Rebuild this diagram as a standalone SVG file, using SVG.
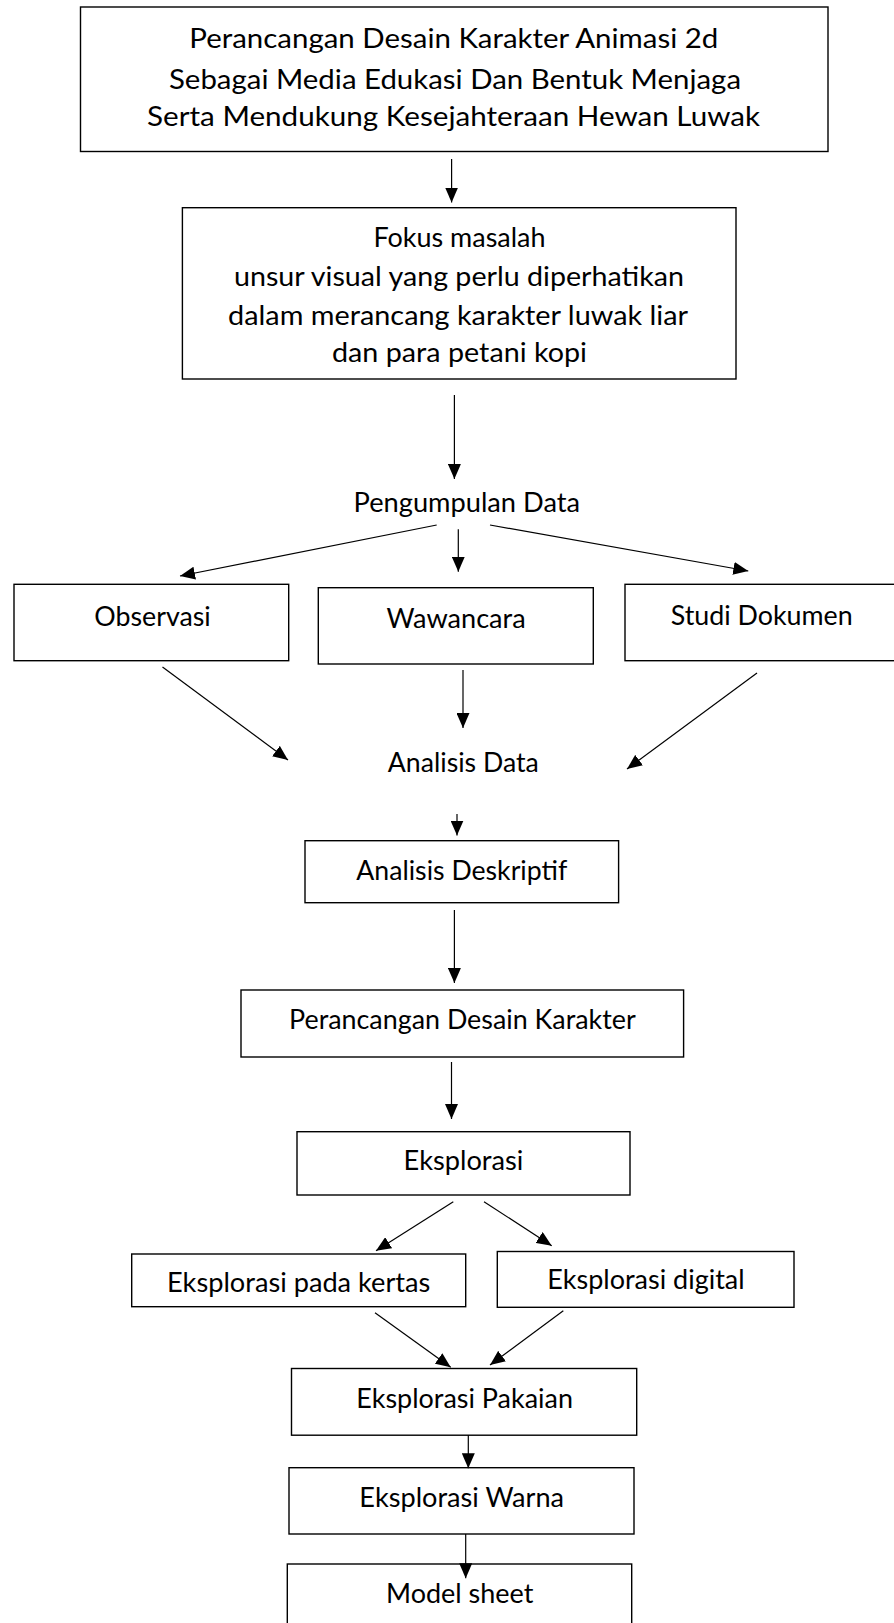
<svg xmlns="http://www.w3.org/2000/svg" width="894" height="1623" viewBox="0 0 894 1623">
<style>
.box{fill:#fff;stroke:#000;stroke-width:1.4}
.t{font-family:Lato,"Open Sans","Liberation Sans",sans-serif;font-size:27px;fill:#000;text-anchor:middle}
.c{stroke:#000;stroke-width:1.2;fill:none;marker-end:url(#ah)}
</style>
<defs>
<marker id="ah" markerUnits="userSpaceOnUse" markerWidth="15" markerHeight="13" refX="15" refY="6.5" orient="auto">
<path d="M0,0 L15,6.5 L0,13 z" fill="#000"/>
</marker>
</defs>
<rect width="894" height="1623" fill="#fff"/>
<g id="judul">
<rect class="box" x="80.5" y="7" width="747.5" height="144.5"/>
<text class="t" x="453.8" y="48.3" textLength="529" lengthAdjust="spacingAndGlyphs">Perancangan Desain Karakter Animasi 2d</text>
<text class="t" x="455" y="88.5" textLength="572" lengthAdjust="spacingAndGlyphs">Sebagai Media Edukasi Dan Bentuk Menjaga</text>
<text class="t" x="453.6" y="126" textLength="613" lengthAdjust="spacingAndGlyphs">Serta Mendukung Kesejahteraan Hewan Luwak</text>
</g>
<g id="fokus">
<rect class="box" x="182.4" y="207.7" width="553.6" height="171.3"/>
<text class="t" x="459.5" y="246.5" textLength="172" lengthAdjust="spacingAndGlyphs">Fokus masalah</text>
<text class="t" x="459" y="286" textLength="450" lengthAdjust="spacingAndGlyphs">unsur visual yang perlu diperhatikan</text>
<text class="t" x="458.1" y="324.5" textLength="460" lengthAdjust="spacingAndGlyphs">dalam merancang karakter luwak liar</text>
<text class="t" x="459.5" y="361.5" textLength="255" lengthAdjust="spacingAndGlyphs">dan para petani kopi</text>
</g>
<g id="pengumpulan">
<text class="t" x="466.8" y="512" textLength="226.5" lengthAdjust="spacingAndGlyphs">Pengumpulan Data</text>
</g>
<g id="observasi">
<rect class="box" x="14" y="584.3" width="274.7" height="76.4"/>
<text class="t" x="152.5" y="626" textLength="116.4" lengthAdjust="spacingAndGlyphs">Observasi</text>
</g>
<g id="wawancara">
<rect class="box" x="318.3" y="587.7" width="275" height="76.3"/>
<text class="t" x="456.1" y="627.5" textLength="139.2" lengthAdjust="spacingAndGlyphs">Wawancara</text>
</g>
<g id="studi">
<rect class="box" x="625" y="584.3" width="280" height="76.4"/>
<text class="t" x="761.7" y="624.5" textLength="182" lengthAdjust="spacingAndGlyphs">Studi Dokumen</text>
</g>
<g id="analisis">
<text class="t" x="463.3" y="772" textLength="151" lengthAdjust="spacingAndGlyphs">Analisis Data</text>
</g>
<g id="deskriptif">
<rect class="box" x="305" y="840.7" width="313.6" height="62"/>
<text class="t" x="461.8" y="880" textLength="211" lengthAdjust="spacingAndGlyphs">Analisis Deskriptif</text>
</g>
<g id="perancangan">
<rect class="box" x="241" y="990" width="442.6" height="67"/>
<text class="t" x="462.4" y="1029" textLength="346.7" lengthAdjust="spacingAndGlyphs">Perancangan Desain Karakter</text>
</g>
<g id="eksplorasi">
<rect class="box" x="297" y="1131.7" width="333" height="63.3"/>
<text class="t" x="463.5" y="1170" textLength="119.8" lengthAdjust="spacingAndGlyphs">Eksplorasi</text>
</g>
<g id="kertas">
<rect class="box" x="131.7" y="1254" width="334" height="52.7"/>
<text class="t" x="298.7" y="1291.7" textLength="263.4" lengthAdjust="spacingAndGlyphs">Eksplorasi pada kertas</text>
</g>
<g id="digital">
<rect class="box" x="497.3" y="1251.5" width="296.7" height="55.8"/>
<text class="t" x="646" y="1289.3" textLength="197.3" lengthAdjust="spacingAndGlyphs">Eksplorasi digital</text>
</g>
<g id="pakaian">
<rect class="box" x="291.5" y="1368.5" width="345.2" height="66.7"/>
<text class="t" x="464.6" y="1408" textLength="216.7" lengthAdjust="spacingAndGlyphs">Eksplorasi Pakaian</text>
</g>
<g id="warna">
<rect class="box" x="289" y="1467.7" width="345" height="66.3"/>
<text class="t" x="461.7" y="1507.3" textLength="204.7" lengthAdjust="spacingAndGlyphs">Eksplorasi Warna</text>
</g>
<g id="model">
<rect class="box" x="287.3" y="1564" width="344.4" height="70"/>
<text class="t" x="459.7" y="1603.3" textLength="147.3" lengthAdjust="spacingAndGlyphs">Model sheet</text>
</g>
<g id="connectors">
<line class="c" x1="451.6" y1="159" x2="451.6" y2="202.5"/>
<line class="c" x1="454.4" y1="395" x2="454.4" y2="479"/>
<line class="c" x1="436.7" y1="525" x2="180" y2="576"/>
<line class="c" x1="458.3" y1="529.3" x2="458.3" y2="571.7"/>
<line class="c" x1="490" y1="525" x2="748.3" y2="571"/>
<line class="c" x1="162.5" y1="667" x2="288" y2="760"/>
<line class="c" x1="463" y1="670" x2="463" y2="728"/>
<line class="c" x1="757" y1="673" x2="627" y2="769"/>
<line class="c" x1="457" y1="814" x2="457" y2="835.5"/>
<line class="c" x1="454.4" y1="910" x2="454.4" y2="983"/>
<line class="c" x1="451.5" y1="1062" x2="451.5" y2="1119"/>
<line class="c" x1="453.3" y1="1201.7" x2="376" y2="1250.7"/>
<line class="c" x1="484" y1="1201.7" x2="551.7" y2="1245.7"/>
<line class="c" x1="375" y1="1312.7" x2="450.7" y2="1367.3"/>
<line class="c" x1="563.3" y1="1310.7" x2="490" y2="1365"/>
<line class="c" x1="468.3" y1="1435" x2="468.3" y2="1468.3"/>
<line class="c" x1="465.7" y1="1534" x2="465.7" y2="1578.3"/>
</g>
</svg>
